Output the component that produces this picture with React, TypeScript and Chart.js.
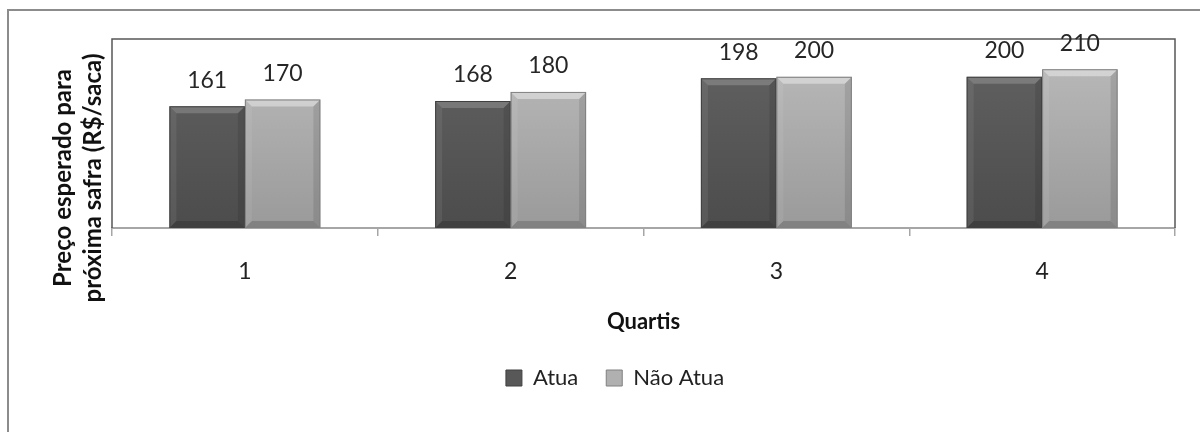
import React, { useEffect, useRef } from 'react';
import { Chart, registerables } from 'chart.js';

Chart.register(...registerables);

// ---- data ----
const categories = ['1', '2', '3', '4'];
const seriesNames = ['Atua', 'Não Atua'];
const atuaValues = [161, 168, 198, 200];
const naoAtuaValues = [170, 180, 200, 210];
const yTitleLines = ['Preço esperado para', 'próxima safra (R$/saca)'];
const xTitle = 'Quartis';
const yMin = 0;
const yMax = 250;

// ---- styles ----
const FONT = 'Lato, "Open Sans", "DejaVu Sans", sans-serif';
const gradStops = [
  ['#636363', '#4c4c4c'],
  ['#bcbcbc', '#9a9a9a'],
];
const legendFill = ['#585858', '#b0b0b0'];
const strokeColors = ['#404040', '#808080'];
const bevelTop = ['rgba(255,255,255,0.18)', 'rgba(255,255,255,0.4)'];

function makeGradient(idx: number) {
  return (ctx: any) => {
    const chart = ctx.chart;
    const area = chart.chartArea;
    if (!area) return legendFill[idx];
    const g = chart.ctx.createLinearGradient(0, area.top, 0, area.bottom);
    g.addColorStop(0, gradStops[idx][0]);
    g.addColorStop(1, gradStops[idx][1]);
    return g;
  };
}

const frameBorderPlugin = {
  id: 'frameBorder',
  beforeDatasetsDraw(chart: any) {
    const { ctx, chartArea } = chart;
    ctx.save();
    ctx.strokeStyle = '#575757';
    ctx.lineWidth = 1.5;
    ctx.beginPath();
    ctx.moveTo(chartArea.left, chartArea.bottom);
    ctx.lineTo(chartArea.left, chartArea.top);
    ctx.lineTo(chartArea.right, chartArea.top);
    ctx.lineTo(chartArea.right, chartArea.bottom);
    ctx.stroke();
    ctx.restore();
  },
};

// legend in the reference sits a little left of the plot centre
const legendShiftPlugin = {
  id: 'legendShift',
  afterLayout(chart: any) {
    const lg = chart.legend;
    if (lg) {
      lg.left -= 57;
      lg.width += 57;
    }
  },
};

const bevelAndLabelsPlugin = {
  id: 'bevelAndLabels',
  afterDatasetsDraw(chart: any) {
    const { ctx } = chart;
    chart.data.datasets.forEach((ds: any, di: number) => {
      const meta = chart.getDatasetMeta(di);
      meta.data.forEach((el: any, i: number) => {
        const p = el.getProps(['x', 'y', 'base', 'width'], true);
        const l = p.x - p.width / 2;
        const r = p.x + p.width / 2;
        const t = p.y;
        const b = p.base;
        const bv = 7;
        ctx.save();
        ctx.fillStyle = bevelTop[di];
        ctx.beginPath();
        ctx.moveTo(l, t); ctx.lineTo(r, t); ctx.lineTo(r - bv, t + bv); ctx.lineTo(l + bv, t + bv); ctx.closePath();
        ctx.fill();
        ctx.fillStyle = 'rgba(255,255,255,0.07)';
        ctx.beginPath();
        ctx.moveTo(l, t); ctx.lineTo(l + bv, t + bv); ctx.lineTo(l + bv, b - bv); ctx.lineTo(l, b); ctx.closePath();
        ctx.fill();
        ctx.fillStyle = 'rgba(0,0,0,0.10)';
        ctx.beginPath();
        ctx.moveTo(r, t); ctx.lineTo(r - bv, t + bv); ctx.lineTo(r - bv, b - bv); ctx.lineTo(r, b); ctx.closePath();
        ctx.fill();
        ctx.fillStyle = 'rgba(0,0,0,0.16)';
        ctx.beginPath();
        ctx.moveTo(l, b); ctx.lineTo(l + bv, b - bv); ctx.lineTo(r - bv, b - bv); ctx.lineTo(r, b); ctx.closePath();
        ctx.fill();
        ctx.strokeStyle = strokeColors[di];
        ctx.lineWidth = 1;
        ctx.strokeRect(l + 0.5, t + 0.5, p.width - 1, b - t - 1);
        ctx.fillStyle = '#262626';
        ctx.font = `23px ${FONT}`;
        ctx.textAlign = 'center';
        ctx.textBaseline = 'middle';
        ctx.fillText(String(ds.data[i]), p.x, t - 26);
        ctx.restore();
      });
    });
  },
};

const yTitlePlugin = {
  id: 'yTitle',
  afterDraw(chart: any) {
    const { ctx, chartArea } = chart;
    ctx.save();
    ctx.translate(chartArea.left - 49, chartArea.top + 139);
    ctx.rotate(-Math.PI / 2);
    ctx.fillStyle = '#111';
    ctx.font = `bold 24px ${FONT}`;
    ctx.textAlign = 'center';
    ctx.textBaseline = 'middle';
    yTitleLines.forEach((line, i) => ctx.fillText(line, 0, i * 30));
    ctx.restore();
  },
};

export default function App() {
  const canvasRef = useRef<HTMLCanvasElement | null>(null);

  useEffect(() => {
    if (!canvasRef.current) return;
    const chart = new Chart(canvasRef.current, {
      type: 'bar',
      data: {
        labels: categories,
        datasets: [
          {
            label: seriesNames[0],
            data: atuaValues,
            backgroundColor: makeGradient(0),
            borderWidth: 0,
            categoryPercentage: 0.568,
            barPercentage: 1,
          },
          {
            label: seriesNames[1],
            data: naoAtuaValues,
            backgroundColor: makeGradient(1),
            borderWidth: 0,
            categoryPercentage: 0.568,
            barPercentage: 1,
          },
        ],
      },
      options: {
        responsive: false,
        animation: false,
        devicePixelRatio: 1,
        layout: { padding: { left: 102, top: 28, right: 25, bottom: 33 } },
        plugins: {
          tooltip: { enabled: false },
          legend: {
            position: 'bottom',
            labels: {
              font: { family: FONT, size: 22 },
              color: '#222',
              boxWidth: 16,
              boxHeight: 16,
              padding: 28,
              generateLabels: (c: any) => {
                const items = (Chart.defaults as any).plugins.legend.labels.generateLabels(c);
                items.forEach((it: any, i: number) => {
                  it.fillStyle = legendFill[i];
                  it.strokeStyle = strokeColors[i];
                  it.lineWidth = 1;
                });
                return items;
              },
            },
          },
        },
        scales: {
          x: {
            grid: {
              display: true,
              drawOnChartArea: false,
              drawTicks: true,
              tickLength: 8,
              color: '#a6a6a6',
              lineWidth: 1.5,
              offset: true,
            },
            border: { display: true, color: '#a6a6a6', width: 2 },
            ticks: {
              font: { family: FONT, size: 23 },
              color: '#222',
              padding: 22,
            },
            title: {
              display: true,
              text: xTitle,
              font: { family: FONT, size: 22, weight: 'bold' },
              color: '#111',
              padding: { top: 1, bottom: 4 },
            },
          },
          y: {
            display: false,
            min: yMin,
            max: yMax,
          },
        },
      },
      plugins: [frameBorderPlugin, legendShiftPlugin, bevelAndLabelsPlugin, yTitlePlugin],
    } as any);
    return () => chart.destroy();
  }, []);

  return (
    <div style={{ position: 'fixed', left: 0, top: 0, width: 1200, height: 432, background: '#fff', overflow: 'hidden' }}>
      <div
        style={{
          position: 'absolute',
          left: 7,
          top: 9,
          width: 1300,
          height: 600,
          borderLeft: '2px solid #8c8c8c',
          borderTop: '2px solid #8c8c8c',
        }}
      />
      <canvas
        ref={canvasRef}
        width={1190}
        height={421}
        style={{ position: 'absolute', left: 10, top: 11, width: 1190, height: 421 }}
      />
    </div>
  );
}
